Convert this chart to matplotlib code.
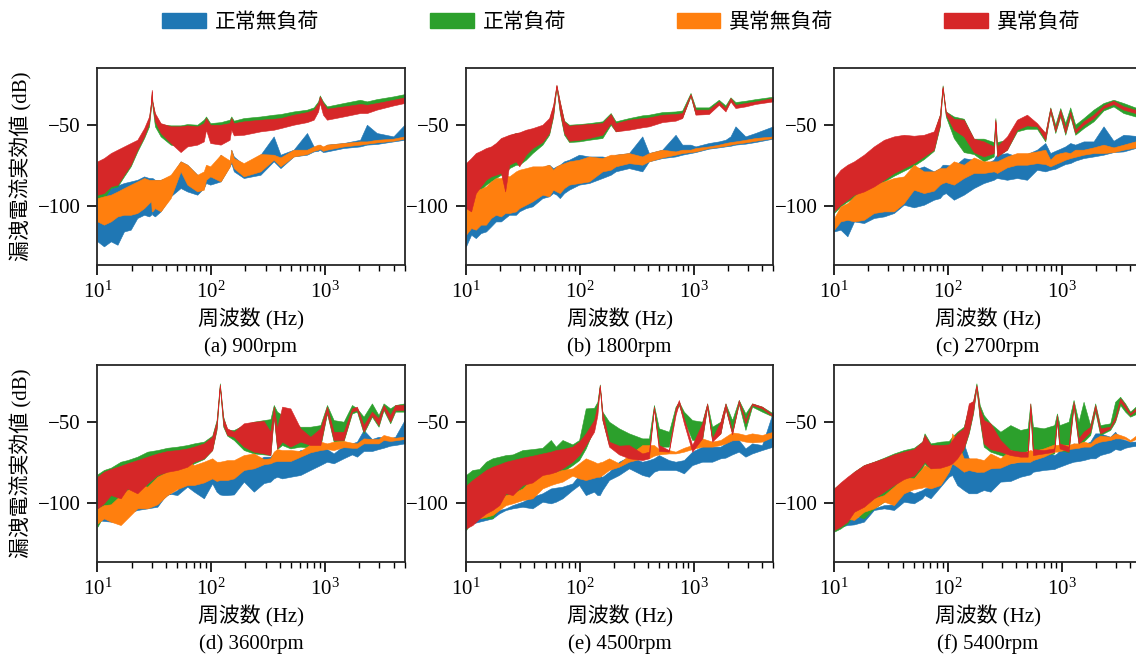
import matplotlib
matplotlib.use('Agg')
import matplotlib.pyplot as plt
from matplotlib.patches import Patch

plt.rcParams['font.family'] = ['Liberation Serif', 'Noto Sans CJK JP']
plt.rcParams['mathtext.fontset'] = 'stix'
plt.rcParams['font.size'] = 15

labels = ['正常無負荷', '正常負荷', '異常無負荷', '異常負荷']
colors = ['#1f77b4', '#2ca02c', '#ff7f0e', '#d62728']
titles = ['(a) 900rpm', '(b) 1800rpm', '(c) 2700rpm',
          '(d) 3600rpm', '(e) 4500rpm', '(f) 5400rpm']

# nn = 正常無負荷, nl = 正常負荷, an = 異常無負荷, al = 異常負荷 (lower / upper envelope, dB)

# (a) 900rpm
f_a = [10, 11.4, 13.1, 15.0, 17.1, 19.6, 22.4, 25.7, 28.4, 29.6, 30.0, 30.4, 32.0, 35.9, 44.0, 53.8,
       61.6, 75.4, 86.0, 90.0, 98.0, 121, 145, 150, 158, 193, 271, 354, 406, 530, 695, 795, 870, 900,
       960, 1040, 1455, 2035, 2335, 2850, 3990, 5000]
a_nn_hi = [-93.6, -92.2, -89.1, -87.5, -86.0, -85.0, -84.0, -81.9, -82.9, -82.9, -82.9, -82.9, -84.0, -84.0,
           -81.9, -72.6, -74.7, -80.9, -82.9, -76.8, -80.9, -68.5, -74.7, -65.4, -69.6, -74.7, -68.5, -57.2,
           -68.5, -65.4, -55.1, -63.4, -64.4, -62.3, -64.4, -62.3, -61.3, -59.3, -50.0, -55.1, -57.2, -50.0]
a_nn_lo = [-122.0, -125.1, -122.0, -124.1, -115.9, -114.8, -107.6, -105.6, -106.6, -105.6, -104.5, -105.6,
           -106.6, -103.5, -94.2, -89.1, -91.2, -93.2, -89.1, -86.0, -87.0, -85.0, -75.7, -73.7, -78.8, -82.9,
           -80.9, -72.6, -76.8, -69.6, -68.5, -66.5, -66.1, -65.4, -66.9, -66.5, -64.4, -63.4, -62.3, -61.9,
           -60.3, -59.3]
a_nl_hi = [-74.7, -72.6, -69.6, -67.5, -65.4, -63.4, -61.3, -54.1, -45.9, -35.6, -30.4, -35.6, -43.8, -49.6,
           -50.4, -50.4, -49.6, -50.0, -46.9, -44.9, -49.0, -48.4, -46.9, -44.9, -47.5, -45.9, -44.9, -43.8,
           -43.4, -41.8, -40.7, -39.3, -35.6, -31.9, -35.6, -38.7, -36.6, -34.6, -35.6, -34.2, -32.5, -31.1]
a_nl_lo = [-98.4, -95.3, -89.1, -88.1, -81.9, -75.7, -66.5, -58.2, -51.0, -38.7, -31.5, -38.7, -51.0, -57.2,
           -62.3, -63.4, -61.3, -59.3, -57.2, -52.1, -56.2, -55.1, -53.1, -49.0, -52.1, -52.1, -51.0, -49.6,
           -49.0, -46.9, -44.9, -43.8, -39.7, -34.6, -40.7, -43.4, -41.8, -39.7, -39.7, -38.1, -36.0, -34.6]
a_an_hi = [-95.3, -94.2, -93.2, -91.2, -89.1, -87.0, -85.0, -82.9, -84.0, -84.0, -84.0, -84.0, -84.0, -84.0,
           -80.9, -72.6, -74.7, -80.9, -78.8, -74.7, -75.7, -68.5, -72.0, -65.4, -70.6, -73.7, -68.1, -68.5,
           -70.2, -65.4, -65.4, -63.4, -62.3, -62.3, -63.4, -62.3, -61.3, -60.3, -60.3, -59.3, -58.6, -57.2]
a_an_lo = [-109.7, -111.7, -109.7, -106.6, -105.6, -105.6, -104.5, -101.5, -98.4, -97.3, -103.5, -103.5,
           -101.5, -103.5, -95.3, -78.8, -87.0, -91.2, -90.1, -84.0, -81.9, -85.0, -76.0, -72.6, -76.8, -81.9,
           -78.8, -71.6, -75.7, -69.6, -68.1, -66.1, -65.4, -64.8, -66.1, -65.4, -63.4, -62.3, -61.7, -60.9,
           -59.9, -58.6]
a_al_hi = [-72.6, -70.6, -67.5, -65.4, -63.4, -61.3, -59.3, -52.1, -44.9, -35.6, -28.4, -35.6, -42.8, -49.0,
           -51.0, -51.0, -50.4, -51.0, -49.0, -45.9, -50.0, -50.0, -49.0, -45.9, -49.0, -47.9, -46.9, -46.3,
           -45.9, -43.8, -42.2, -40.7, -36.6, -32.5, -36.6, -40.1, -38.7, -37.2, -37.7, -36.6, -34.6, -33.1]
a_al_lo = [-93.2, -92.2, -88.1, -87.0, -80.9, -74.7, -65.4, -57.2, -49.0, -37.7, -29.4, -37.7, -47.9, -55.1,
           -61.3, -66.9, -63.4, -62.3, -60.3, -53.1, -61.3, -62.3, -59.3, -53.1, -56.6, -56.2, -54.1, -53.1,
           -52.1, -50.0, -48.4, -46.9, -41.8, -36.6, -43.8, -46.9, -44.9, -42.8, -42.8, -40.7, -38.1, -36.6]

# (b) 1800rpm
f_b = [10, 11.1, 12.2, 13.5, 15.0, 16.6, 18.3, 20.3, 22.1, 24.0, 27.5, 29.4, 33.6, 38.4, 47.0, 53.8, 58.4,
       62.4, 66.8, 72.9, 80.6, 98.7, 120.8, 158.1, 187, 206.9, 270.8, 354.5, 405.6, 531, 695.2, 795.5,
       941.3, 1041, 1363, 1668, 1909, 2112, 2336, 2859, 3499, 5000]
b_nn_hi = [-95.3, -93.2, -90.1, -90.1, -89.1, -86.0, -84.0, -84.0, -82.9, -82.9, -80.9, -79.8, -78.8, -77.2,
           -76.3, -74.7, -76.8, -75.7, -74.7, -72.6, -71.6, -68.5, -69.6, -69.6, -70.6, -68.5, -67.5, -57.2,
           -67.5, -65.4, -56.2, -62.3, -62.3, -63.4, -61.3, -60.3, -59.3, -57.2, -51.0, -57.2, -55.1, -51.0]
b_nn_lo = [-125.1, -117.9, -120.0, -116.9, -115.9, -112.8, -109.7, -109.7, -107.6, -105.6, -105.6, -103.5,
           -101.5, -100.4, -95.3, -94.2, -92.2, -93.2, -95.3, -92.2, -90.1, -87.0, -86.0, -82.9, -80.9, -78.8,
           -76.8, -78.8, -72.6, -70.6, -69.6, -68.5, -67.5, -66.9, -64.8, -64.0, -63.4, -63.0, -62.3, -61.7,
           -60.7, -58.6]
b_nl_hi = [-74.7, -71.6, -68.5, -66.9, -65.4, -64.0, -61.9, -59.3, -57.8, -56.6, -55.1, -55.1, -53.7, -53.1,
           -51.0, -46.9, -38.7, -25.7, -36.0, -47.5, -50.0, -49.6, -49.0, -47.9, -42.8, -47.9, -45.9, -44.2,
           -43.8, -42.2, -41.8, -41.2, -30.4, -39.3, -39.3, -34.6, -38.1, -33.1, -36.0, -35.2, -34.2, -32.7]
b_nl_lo = [-102.5, -99.4, -94.2, -90.1, -87.0, -85.0, -82.9, -80.9, -79.8, -76.8, -74.7, -74.7, -71.6, -67.5,
           -62.3, -56.2, -44.9, -27.0, -42.8, -56.2, -60.7, -60.3, -59.3, -58.2, -50.0, -54.1, -52.1, -50.4,
           -50.0, -47.5, -46.3, -45.5, -32.5, -43.4, -42.8, -37.2, -40.7, -35.2, -38.7, -37.7, -36.6, -35.2]
b_an_hi = [-97.3, -94.2, -90.1, -89.5, -88.1, -85.0, -82.9, -82.9, -80.9, -81.9, -78.8, -77.8, -76.8, -75.7,
           -75.7, -74.7, -77.8, -75.7, -74.7, -73.7, -72.6, -71.6, -69.6, -70.6, -68.5, -68.5, -67.5, -69.6,
           -67.5, -65.4, -66.5, -65.4, -65.4, -64.4, -63.4, -62.3, -61.3, -60.7, -60.3, -59.3, -58.2, -57.2]
b_an_lo = [-117.9, -113.8, -114.8, -111.7, -111.7, -107.6, -105.6, -106.6, -104.5, -104.5, -103.5, -101.5,
           -99.4, -97.3, -93.2, -94.2, -90.1, -91.2, -92.2, -89.1, -87.0, -86.0, -85.0, -78.8, -77.8, -75.7,
           -73.7, -74.7, -72.6, -70.2, -68.5, -67.5, -66.9, -66.5, -64.4, -63.6, -63.0, -62.3, -61.7, -60.9,
           -59.9, -58.2]
b_al_hi = [-73.7, -70.6, -67.5, -66.1, -64.4, -63.4, -61.3, -58.2, -57.2, -56.2, -55.1, -54.7, -53.1, -52.1,
           -50.0, -45.9, -37.7, -25.3, -35.6, -47.9, -50.6, -50.0, -49.6, -49.0, -43.4, -49.0, -46.9, -45.9,
           -45.5, -43.8, -43.4, -42.8, -31.1, -40.7, -40.7, -35.6, -39.7, -33.5, -37.7, -36.6, -35.6, -33.5]
b_al_lo = [-101.5, -103.5, -92.2, -88.1, -84.0, -81.9, -80.9, -79.8, -91.2, -74.7, -72.6, -75.7, -68.5, -64.4,
           -60.7, -55.1, -43.8, -26.3, -41.8, -55.1, -59.9, -59.3, -58.2, -56.2, -49.0, -54.1, -53.1, -51.6,
           -51.0, -48.4, -47.5, -45.9, -31.9, -43.8, -43.4, -37.7, -41.8, -35.6, -39.7, -38.7, -37.2, -35.6]

# (c) 2700rpm
f_c = [10, 11.4, 13.1, 15.0, 18.3, 22.4, 27.5, 33.6, 41.1, 50.3, 61.6, 75.4, 85.1, 90.0, 96.0, 112.9, 138.1,
       169.1, 206.9, 253.2, 261.9, 270.8, 331.4, 405.6, 496.4, 607.6, 718.9, 795.5, 879.9, 973.5, 1077,
       1191, 1318, 1560, 1909, 2336, 2859, 3499, 5000]
c_nn_hi = [-109.7, -106.6, -103.5, -100.4, -96.3, -92.2, -88.1, -85.0, -82.9, -77.8, -75.7, -78.8, -76.8,
           -74.7, -74.7, -75.7, -70.6, -71.6, -74.7, -71.6, -69.6, -68.5, -67.5, -69.6, -68.1, -65.4, -61.3,
           -67.5, -66.1, -64.8, -63.4, -61.3, -62.3, -60.3, -60.3, -51.0, -59.9, -56.2, -57.2]
c_nn_lo = [-115.9, -114.8, -118.9, -109.7, -110.7, -107.6, -106.6, -104.5, -99.4, -101.0, -99.4, -96.3, -95.3,
           -93.2, -92.2, -96.3, -93.2, -89.1, -86.0, -84.0, -83.3, -82.9, -84.0, -82.9, -84.0, -77.8, -78.8,
           -77.8, -77.2, -75.7, -74.3, -73.7, -72.2, -70.6, -69.6, -68.5, -66.9, -66.5, -63.4]
c_nl_hi = [-84.0, -79.2, -75.7, -73.7, -69.6, -64.4, -60.3, -58.2, -57.2, -57.8, -57.2, -55.1, -43.8, -25.7,
           -41.8, -44.9, -46.3, -58.6, -58.6, -60.7, -45.9, -60.7, -59.3, -47.9, -45.9, -50.0, -55.1, -39.3,
           -50.0, -39.7, -49.0, -39.3, -50.0, -45.9, -40.7, -36.6, -34.6, -36.6, -40.7]
c_nl_lo = [-104.5, -100.4, -97.3, -95.3, -93.2, -89.5, -85.0, -81.5, -78.4, -75.3, -71.2, -66.1, -51.0, -27.8,
           -44.9, -58.2, -66.9, -68.1, -72.6, -69.6, -49.0, -69.6, -65.4, -54.1, -52.5, -52.5, -60.3, -42.2,
           -55.1, -44.9, -56.2, -44.9, -56.2, -52.1, -47.9, -41.2, -38.7, -42.8, -45.9]
c_an_hi = [-107.6, -100.4, -98.4, -94.2, -89.1, -87.0, -85.0, -82.9, -81.9, -74.7, -78.8, -78.8, -76.8, -76.8,
           -76.8, -72.6, -74.7, -70.2, -72.6, -72.6, -72.6, -72.6, -69.6, -67.5, -67.5, -66.5, -65.4, -71.6,
           -68.5, -67.5, -66.9, -67.5, -65.4, -65.4, -64.0, -62.3, -64.0, -62.3, -59.3]
c_an_lo = [-114.8, -109.7, -108.7, -109.7, -108.7, -104.5, -103.5, -103.5, -98.4, -90.1, -92.2, -90.7, -87.0,
           -86.0, -85.4, -87.0, -82.9, -79.8, -79.8, -78.8, -79.2, -79.8, -76.3, -74.7, -74.7, -73.7, -74.3,
           -75.7, -74.3, -73.0, -71.6, -70.6, -69.8, -68.5, -67.5, -67.5, -66.9, -65.4, -63.4]
c_al_hi = [-82.9, -77.8, -74.7, -72.6, -68.5, -63.4, -59.3, -57.2, -56.2, -56.8, -56.2, -54.1, -43.8, -26.3,
           -41.8, -46.3, -46.9, -58.6, -60.3, -63.4, -46.9, -63.4, -57.2, -46.9, -43.8, -49.0, -55.1, -39.7,
           -52.1, -40.7, -52.1, -41.8, -53.1, -47.9, -43.8, -38.1, -35.2, -38.7, -41.8]
c_al_lo = [-103.5, -99.4, -96.3, -93.2, -91.2, -88.1, -84.0, -79.8, -76.8, -73.7, -69.6, -65.4, -50.0, -27.4,
           -43.8, -53.1, -57.2, -66.9, -69.6, -67.5, -47.9, -69.6, -65.4, -53.1, -50.4, -51.0, -59.3, -41.8,
           -54.1, -43.8, -55.1, -43.8, -55.1, -50.0, -45.9, -39.7, -37.2, -40.7, -43.8]

# (d) 3600rpm
f_d = [10, 11.4, 13.1, 16.0, 18.3, 22.4, 27.5, 33.6, 41.1, 50.3, 61.6, 70.5, 86.2, 102, 111.4, 119, 127.5,
       138.1, 158.1, 193.4, 236.7, 289.7, 331.4, 354.5, 379.2, 419.6, 496.4, 607.6, 743.6, 910.2, 1041,
       1191, 1458, 1726, 1909, 2184, 2584, 2956, 3271, 3743, 4140, 5000]
d_nn_hi = [-109.7, -108.0, -106.6, -103.5, -103.1, -102.5, -101.5, -100.4, -95.3, -92.2, -82.9, -78.8, -82.9,
           -81.9, -82.9, -84.0, -85.0, -85.0, -84.0, -79.8, -74.7, -71.6, -71.6, -69.6, -70.6, -71.6, -71.6,
           -67.5, -68.5, -64.4, -66.9, -69.6, -64.8, -63.4, -62.3, -55.1, -60.7, -59.3, -59.9, -60.3, -59.3,
           -49.0]
d_nn_lo = [-110.7, -111.3, -111.7, -111.7, -106.6, -104.5, -103.5, -102.5, -94.2, -95.3, -90.1, -93.2, -97.3,
           -88.1, -93.2, -94.9, -95.3, -95.3, -94.9, -87.0, -93.2, -87.9, -87.0, -85.0, -84.0, -85.0, -84.0,
           -82.9, -79.8, -76.8, -74.7, -75.7, -72.6, -70.2, -71.6, -68.1, -68.1, -66.9, -66.1, -64.8, -64.4,
           -63.4]
d_nl_hi = [-82.5, -79.8, -78.4, -74.7, -73.7, -71.6, -68.5, -67.5, -66.1, -65.4, -64.4, -63.4, -62.3, -58.6,
           -49.0, -26.3, -46.9, -55.1, -55.1, -52.1, -50.0, -49.0, -48.4, -39.7, -43.8, -45.9, -51.0, -53.1,
           -53.1, -52.1, -39.7, -49.0, -50.0, -39.7, -41.8, -46.9, -38.7, -45.9, -38.7, -41.8, -39.7, -38.7]
d_nl_lo = [-114.8, -107.6, -104.5, -101.5, -97.3, -94.2, -91.2, -87.0, -84.0, -80.9, -78.8, -75.7, -73.0,
           -67.5, -55.1, -28.4, -53.1, -58.6, -61.3, -67.5, -69.6, -70.2, -70.6, -46.9, -66.9, -64.4, -66.5,
           -65.4, -66.1, -65.4, -44.9, -62.3, -61.9, -44.9, -43.8, -57.2, -46.9, -53.1, -42.8, -51.0, -43.8,
           -43.8]
d_an_hi = [-103.5, -101.5, -101.0, -95.3, -92.2, -89.1, -90.1, -84.0, -80.9, -77.8, -74.7, -76.8, -74.7, -72.6,
           -74.7, -74.7, -74.3, -73.7, -73.7, -70.6, -69.6, -73.1, -72.6, -68.5, -66.9, -67.5, -67.5, -68.1,
           -64.0, -62.3, -63.4, -62.3, -61.9, -63.0, -63.4, -60.3, -60.7, -60.7, -58.2, -59.3, -59.9, -59.3]
d_an_lo = [-112.8, -109.7, -111.7, -113.8, -109.7, -103.5, -103.5, -101.0, -95.3, -91.6, -89.1, -89.1, -87.5,
           -85.0, -86.6, -86.0, -86.0, -86.0, -85.0, -79.8, -78.8, -76.3, -75.7, -74.7, -74.3, -74.3, -74.3,
           -71.6, -68.9, -67.5, -66.9, -67.5, -65.7, -66.1, -66.1, -63.4, -63.4, -63.4, -61.3, -61.9, -61.5,
           -60.7]
d_al_hi = [-84.0, -80.9, -79.2, -77.2, -75.7, -73.7, -71.6, -69.6, -68.1, -67.5, -66.5, -65.4, -63.4, -59.3,
           -50.0, -27.0, -47.9, -54.1, -56.2, -51.0, -50.0, -49.6, -56.2, -40.7, -54.1, -40.7, -41.8, -54.1,
           -59.3, -54.1, -40.7, -56.2, -56.2, -41.8, -40.7, -52.1, -43.8, -47.9, -39.7, -45.9, -39.7, -39.7]
d_al_lo = [-103.5, -100.4, -95.3, -97.3, -91.2, -94.2, -88.1, -82.9, -80.9, -79.8, -77.8, -74.7, -72.6, -67.5,
           -54.1, -27.8, -52.1, -58.2, -59.3, -65.4, -68.5, -69.6, -70.6, -45.9, -66.5, -62.3, -65.4, -62.3,
           -64.4, -64.4, -43.8, -61.3, -61.3, -43.8, -42.8, -56.2, -45.9, -52.1, -41.8, -50.0, -42.8, -42.8]

# (e) 4500rpm
f_e = [10, 11.4, 13.1, 15.0, 17.1, 19.6, 22.4, 25.7, 31.4, 38.4, 47.0, 55.7, 61.6, 70.5, 86.2, 98.7, 112.9,
       133.6, 142.9, 150, 158.1, 180.9, 221.3, 270.8, 354.5, 405.6, 448.8, 496.4, 607.6, 695.2, 743.6, 822.8,
       973.5, 1191, 1318, 1458, 1726, 1909, 2184, 2499, 2859, 3271, 4003, 5000]
e_nn_hi = [-109.7, -109.1, -108.0, -106.6, -105.6, -104.5, -103.5, -101.5, -99.4, -96.3, -94.2, -91.2, -90.7,
           -90.1, -88.1, -82.9, -84.0, -82.9, -82.9, -83.3, -84.0, -80.9, -74.7, -71.6, -74.7, -73.7, -72.6,
           -70.6, -73.7, -74.7, -74.3, -73.7, -68.5, -65.4, -62.3, -65.4, -65.4, -63.4, -58.2, -61.3, -66.5,
           -63.4, -64.4, -43.8]
e_nn_lo = [-113.8, -112.8, -111.7, -110.7, -109.7, -106.6, -104.5, -103.5, -102.5, -103.5, -99.4, -100.4,
           -99.4, -97.3, -92.2, -89.1, -95.3, -93.2, -95.3, -95.3, -92.2, -86.0, -82.9, -78.8, -82.9, -84.0,
           -80.9, -79.8, -79.8, -79.8, -80.5, -81.9, -76.8, -74.7, -74.7, -74.7, -72.6, -72.2, -70.2, -68.5,
           -71.6, -69.6, -67.5, -65.4]
e_nl_hi = [-82.9, -79.8, -79.2, -74.7, -72.6, -71.6, -70.6, -70.2, -67.5, -66.9, -66.1, -61.3, -65.4, -61.3,
           -64.0, -61.3, -41.8, -41.4, -37.7, -27.0, -43.8, -50.0, -54.1, -57.2, -60.3, -60.3, -39.7, -54.1,
           -56.2, -40.7, -37.7, -43.8, -49.0, -50.0, -38.7, -53.1, -50.0, -38.7, -49.0, -36.6, -44.9, -38.7,
           -40.7, -44.9]
e_nl_lo = [-116.9, -111.3, -109.3, -109.7, -109.7, -102.5, -100.4, -97.3, -94.2, -90.1, -85.0, -82.9, -81.9,
           -80.9, -76.8, -73.7, -66.5, -54.1, -41.8, -28.4, -49.0, -64.4, -66.5, -69.6, -68.5, -69.6, -41.8,
           -65.4, -65.4, -43.8, -39.7, -49.0, -61.3, -61.3, -40.7, -61.3, -57.2, -41.8, -57.2, -39.1, -55.1,
           -40.7, -43.8, -46.9]
e_an_hi = [-109.7, -103.5, -105.2, -103.5, -100.4, -97.3, -95.3, -94.2, -91.2, -85.0, -82.9, -80.9, -80.9,
           -79.8, -78.8, -75.7, -72.6, -74.7, -75.7, -75.1, -74.7, -72.6, -75.7, -70.6, -64.4, -64.4, -64.4,
           -66.9, -67.5, -68.5, -67.5, -66.1, -64.4, -60.3, -61.3, -62.3, -61.3, -59.3, -56.6, -57.2, -58.2,
           -57.2, -58.2, -56.2]
e_an_lo = [-115.9, -109.7, -109.7, -108.7, -107.6, -104.5, -101.5, -100.4, -98.4, -97.3, -91.2, -89.1, -88.1,
           -87.0, -83.3, -85.0, -86.0, -84.6, -84.0, -84.0, -82.9, -79.8, -77.8, -74.7, -72.6, -72.6, -71.0,
           -70.2, -69.6, -69.6, -69.2, -68.5, -66.9, -65.4, -65.4, -65.4, -64.4, -63.4, -61.5, -61.3, -62.3,
           -62.8, -62.3, -59.3]
e_al_hi = [-89.5, -86.0, -82.9, -79.8, -77.8, -76.3, -74.7, -73.7, -72.2, -71.0, -69.6, -68.5, -67.5, -66.9,
           -65.4, -62.3, -57.2, -49.0, -39.7, -27.4, -43.8, -62.3, -64.8, -64.4, -69.6, -68.5, -40.7, -64.4,
           -67.5, -41.8, -36.6, -47.9, -64.4, -51.0, -38.7, -60.3, -50.0, -38.7, -56.2, -36.6, -49.0, -38.7,
           -40.7, -45.9]
e_al_lo = [-115.9, -113.8, -109.7, -106.6, -104.5, -101.5, -94.2, -95.3, -89.1, -87.5, -82.9, -81.9, -80.9,
           -78.8, -74.7, -70.6, -64.4, -56.2, -45.9, -28.4, -49.0, -65.4, -70.2, -72.6, -73.7, -72.6, -41.8,
           -68.1, -68.5, -45.9, -38.7, -51.0, -68.5, -60.3, -40.7, -62.3, -57.2, -41.8, -57.8, -38.7, -51.0,
           -39.7, -41.8, -46.9]

# (f) 5400rpm
f_f = [10, 11.4, 13.1, 15.0, 18.3, 22.4, 27.5, 33.6, 41.1, 50.3, 59.6, 62.4, 70.5, 86.2, 102, 109.1, 120.8,
       138.1, 152.9, 166.8, 178.4, 190.8, 206.9, 236.7, 289.7, 354.5, 433.8, 503.2, 531, 560.4, 695.2, 862,
       910.2, 960.5, 1152, 1274, 1410, 1560, 1784, 1974, 2184, 2673, 2956, 3271, 3619, 4003, 5000]
f_nn_hi = [-114.8, -112.8, -111.3, -109.7, -107.6, -103.5, -101.5, -101.0, -91.2, -94.2, -92.2, -91.2, -90.1,
           -86.0, -80.9, -59.3, -64.4, -63.4, -72.6, -78.8, -80.9, -80.9, -79.8, -78.8, -75.7, -75.7, -74.7,
           -74.7, -74.7, -72.6, -67.5, -70.6, -69.6, -67.5, -66.5, -63.4, -64.4, -64.0, -62.3, -57.2, -57.2,
           -59.3, -56.2, -60.3, -61.3, -62.3, -62.3]
f_nn_lo = [-115.9, -114.8, -113.8, -113.4, -111.7, -104.5, -103.5, -104.5, -99.4, -100.4, -97.3, -95.3, -97.3,
           -90.1, -84.0, -82.9, -89.1, -92.2, -94.2, -94.2, -94.2, -93.2, -92.2, -93.2, -87.0, -86.6, -84.0,
           -82.9, -82.5, -80.9, -79.8, -79.2, -78.4, -77.8, -75.7, -74.7, -74.3, -73.7, -72.6, -72.6, -70.6,
           -68.9, -66.9, -67.5, -66.1, -65.4, -64.4]
f_nl_hi = [-91.2, -88.1, -85.0, -80.9, -76.8, -74.7, -72.2, -69.6, -67.5, -66.1, -62.3, -57.2, -63.4, -62.3,
           -61.9, -59.3, -56.2, -53.1, -40.7, -37.2, -26.3, -39.7, -45.9, -51.0, -56.2, -52.1, -55.1, -54.1,
           -38.7, -53.1, -54.1, -52.1, -44.9, -52.1, -50.0, -36.6, -50.0, -37.7, -52.1, -38.7, -52.1, -51.0,
           -37.7, -34.6, -38.7, -43.8, -37.7]
f_nl_lo = [-117.9, -115.9, -112.8, -107.6, -109.7, -103.5, -99.4, -94.2, -89.1, -85.0, -78.8, -75.7, -80.9,
           -78.8, -77.2, -74.7, -74.7, -66.9, -57.2, -44.9, -29.4, -49.0, -65.4, -68.5, -70.6, -72.6, -73.7,
           -73.7, -42.8, -71.6, -70.6, -69.6, -50.0, -67.5, -68.9, -40.7, -64.4, -62.3, -58.2, -43.8, -58.2,
           -55.1, -50.0, -39.7, -43.8, -46.9, -43.8]
f_an_hi = [-115.9, -109.7, -108.7, -105.6, -99.4, -97.3, -95.3, -90.1, -84.0, -85.0, -78.8, -76.8, -78.8,
           -75.7, -74.7, -57.2, -62.3, -72.6, -72.6, -72.6, -72.6, -73.1, -73.7, -69.6, -72.6, -67.5, -69.6,
           -68.1, -67.5, -68.1, -66.5, -64.0, -64.4, -64.0, -64.4, -63.4, -63.4, -62.3, -63.4, -60.3, -58.6,
           -59.3, -57.2, -58.2, -59.3, -61.3, -56.2]
f_an_lo = [-116.9, -110.7, -109.7, -110.7, -105.6, -103.5, -99.4, -101.5, -94.2, -91.6, -90.7, -90.1, -91.2,
           -89.1, -80.9, -75.7, -77.8, -80.9, -79.8, -80.5, -80.9, -80.9, -80.9, -78.8, -78.4, -75.7, -74.7,
           -74.7, -74.7, -73.7, -71.6, -68.5, -68.5, -68.1, -66.9, -66.5, -66.1, -65.4, -65.4, -63.4, -62.3,
           -61.3, -60.3, -60.3, -60.7, -62.3, -59.3]
f_al_hi = [-91.2, -87.5, -84.0, -80.9, -76.8, -74.7, -72.6, -70.2, -68.5, -66.9, -62.3, -58.2, -64.4, -64.4,
           -64.0, -61.3, -57.2, -54.1, -38.7, -37.2, -27.4, -41.8, -49.0, -51.0, -61.3, -67.5, -68.5, -68.5,
           -38.7, -66.9, -67.5, -66.5, -45.9, -63.4, -65.4, -37.7, -60.3, -56.2, -53.1, -39.7, -54.1, -53.1,
           -46.9, -35.6, -39.7, -44.9, -38.7]
f_al_lo = [-116.9, -114.8, -111.7, -105.6, -102.5, -97.3, -93.2, -89.1, -85.4, -83.3, -76.8, -74.7, -78.8,
           -78.4, -76.8, -75.7, -72.6, -66.5, -56.2, -43.8, -28.4, -47.9, -63.4, -66.9, -68.5, -70.6, -71.6,
           -71.6, -41.8, -70.6, -69.6, -68.5, -49.0, -66.5, -68.5, -39.7, -63.4, -60.3, -56.2, -41.8, -57.2,
           -54.1, -49.0, -37.7, -41.8, -45.9, -40.7]

panels = [
    (f_a, [(a_nn_lo, a_nn_hi), (a_nl_lo, a_nl_hi), (a_an_lo, a_an_hi), (a_al_lo, a_al_hi)]),
    (f_b, [(b_nn_lo, b_nn_hi), (b_nl_lo, b_nl_hi), (b_an_lo, b_an_hi), (b_al_lo, b_al_hi)]),
    (f_c, [(c_nn_lo, c_nn_hi), (c_nl_lo, c_nl_hi), (c_an_lo, c_an_hi), (c_al_lo, c_al_hi)]),
    (f_d, [(d_nn_lo, d_nn_hi), (d_nl_lo, d_nl_hi), (d_an_lo, d_an_hi), (d_al_lo, d_al_hi)]),
    (f_e, [(e_nn_lo, e_nn_hi), (e_nl_lo, e_nl_hi), (e_an_lo, e_an_hi), (e_al_lo, e_al_hi)]),
    (f_f, [(f_nn_lo, f_nn_hi), (f_nl_lo, f_nl_hi), (f_an_lo, f_an_hi), (f_al_lo, f_al_hi)]),
]

fig = plt.figure(figsize=(11.36, 6.55), dpi=100)
lefts = [0.0858, 0.4102, 0.7342]
bottoms = [0.5954, 0.142]
w, h = 0.2703, 0.3015
title_y = [0.462, 0.009]

for i, (freq, bands) in enumerate(panels):
    r, c = divmod(i, 3)
    ax = fig.add_axes([lefts[c], bottoms[r], w, h])
    for (lo, hi), col in zip(bands, colors):
        ax.fill_between(freq, lo, hi, color=col, lw=0.4)
    ax.set_xscale('log')
    ax.set_xlim(10, 5000)
    ax.set_ylim(-136.6, -14.7)
    ax.set_yticks([-100, -50])
    ax.tick_params(which='major', direction='out', length=7, width=1.2, pad=5)
    ax.tick_params(which='minor', direction='out', length=4, width=1.0)
    for sp in ax.spines.values():
        sp.set_linewidth(1.3)
        sp.set_color('#262626')
    ax.set_xlabel('周波数 (Hz)', labelpad=4)
    if c == 0:
        ax.set_ylabel('漏洩電流実効値 (dB)')
    fig.text(lefts[c] + w / 2, title_y[r], titles[i], ha='center', va='baseline')

handles = [Patch(color=col, label=lab) for col, lab in zip(colors, labels)]
fig.legend(handles=handles, loc='center', bbox_to_anchor=(0.547, 0.965), ncol=4, frameon=False,
           handlelength=2.1, handleheight=0.67, handletextpad=0.43, columnspacing=5.3)

fig.savefig('out.png', dpi=100)
